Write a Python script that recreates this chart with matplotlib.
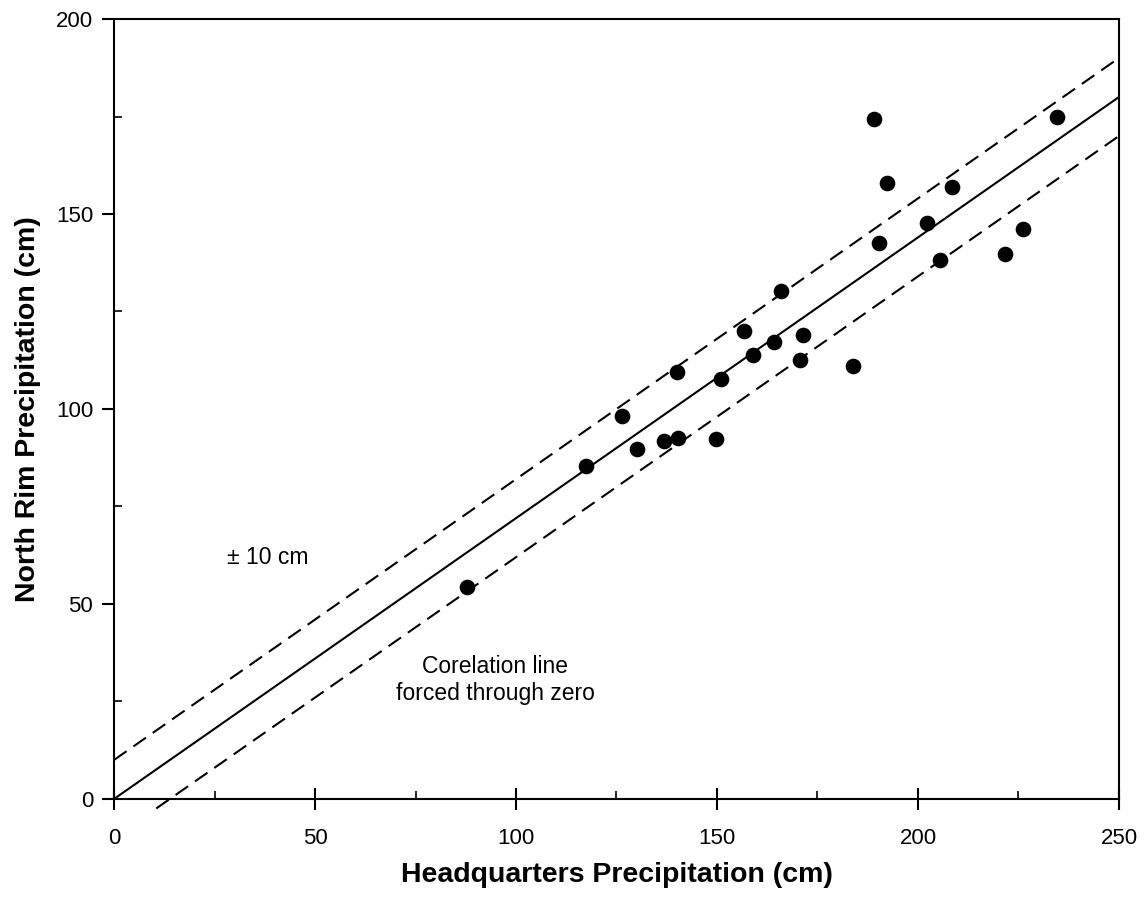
import numpy as np
import matplotlib
matplotlib.use("Agg")
import matplotlib.pyplot as plt
from matplotlib.ticker import MultipleLocator

plt.rcParams["font.family"] = ["Liberation Sans", "DejaVu Sans"]
plt.rcParams["lines.scale_dashes"] = False

# measured points (cm)
hq = [87.9, 117.4, 126.4, 130.2, 136.9, 140.2, 140.0, 149.7, 150.9, 156.7,
      158.9, 164.2, 165.9, 170.6, 171.5, 183.9, 189.1, 190.3, 192.2, 202.3,
      205.6, 208.5, 221.7, 226.2, 234.7]
north_rim = [54.4, 85.5, 98.2, 89.7, 91.9, 92.6, 109.5, 92.2, 107.6, 119.9,
             113.8, 117.2, 130.3, 112.6, 119.0, 111.0, 174.3, 142.5, 157.9, 147.8,
             138.1, 156.9, 139.7, 146.2, 174.8]

# correlation line forced through zero, +/- 10 cm band
slope = 0.72
band = 10
line_x = [0, 250]
lower_x = [10.5, 250]

fig = plt.figure(figsize=(11.46, 8.97), dpi=100)
ax = fig.add_axes([0.0995, 0.1093, 0.8769, 0.8695])

lx = np.array(line_x)
ax.plot(lx, slope * lx, color="black", lw=1.5)
ax.plot(lx, slope * lx + band, color="black", lw=1.5, dashes=(11, 6))
lo = np.array(lower_x)
ax.plot(lo, slope * lo - band, color="black", lw=1.5, dashes=(11, 6), clip_on=False)

ax.scatter(hq, north_rim, s=105, color="black", zorder=3)

ax.text(28, 62, "\u00b1 10 cm", fontsize=16.5, va="center", ha="left")
ax.text(94.8, 30.5, "Corelation line\nforced through zero", fontsize=16.5,
        ha="center", va="center", linespacing=1.25)

ax.set_xlim(0, 250)
ax.set_ylim(0, 200)
ax.xaxis.set_major_locator(MultipleLocator(50))
ax.xaxis.set_minor_locator(MultipleLocator(25))
ax.yaxis.set_major_locator(MultipleLocator(50))
ax.yaxis.set_minor_locator(MultipleLocator(25))
ax.tick_params(axis="x", which="major", direction="inout", length=16, width=1.5,
               labelsize=16, pad=13)
ax.tick_params(axis="y", which="major", direction="out", length=9, width=1.5,
               labelsize=16, pad=6)
ax.tick_params(which="minor", direction="in", length=6, width=1.2)
for s in ax.spines.values():
    s.set_linewidth(1.5)

ax.set_xlabel("Headquarters Precipitation (cm)", fontsize=20.5, fontweight="bold",
              labelpad=9)
ax.set_ylabel("North Rim Precipitation (cm)", fontsize=20.5, fontweight="bold",
              labelpad=11)

fig.savefig("out.png", dpi=100)
